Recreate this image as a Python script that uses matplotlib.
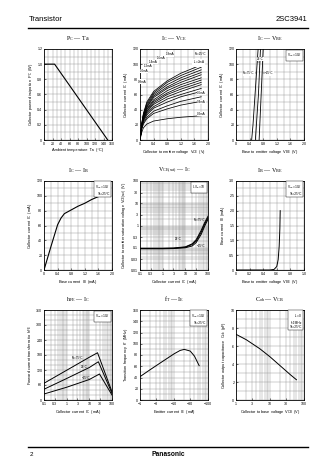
import matplotlib
matplotlib.use("Agg")
import matplotlib.pyplot as plt
import numpy as np
from matplotlib.ticker import FixedLocator, NullFormatter, FixedFormatter

plt.rcParams['font.family'] = ['Liberation Sans', 'DejaVu Sans']
plt.rcParams['mathtext.fontset'] = 'custom'
plt.rcParams['mathtext.rm'] = 'Liberation Sans'
plt.rcParams['mathtext.it'] = 'Liberation Sans:italic'

# ---------------- data ----------------
# Panel 1: PC - Ta
pc_ta = [0, 25, 150]
pc_w = [1.0, 1.0, 0.0]

# Panel 2: IC - VCE (family of IB curves)
vce_pts = [0, 0.05, 0.1, 0.2, 0.4, 0.8, 1.2, 1.8]
ic_vce = [
    [0, 22, 35, 50, 64, 78, 88, 99],
    [0, 21, 34, 48, 62, 76, 85, 96],
    [0, 20, 33, 46, 60, 73, 82, 92.5],
    [0, 19, 32, 44, 58, 70, 79, 89],
    [0, 19, 31, 43, 56, 68, 76, 86],
    [0, 18, 30, 41, 53, 65, 73, 82],
    [0, 18, 29, 40, 51, 62, 70, 79],
    [0, 17, 28, 38, 49, 60, 67, 76],
    [0, 17, 27, 37, 47, 57, 64, 73],
    [0, 16, 26, 35, 44, 54, 60, 68],
    [0, 16, 25, 33, 42, 50, 57, 64],
    [0, 15, 23, 30, 38, 45, 51, 57],
    [0, 14, 21, 28, 35, 41, 46, 51],
    [0, 10, 16, 21, 25, 28, 30, 32],
]
ib_left_labels = ["1.8mA", "1.6mA", "1.4mA", "1.2mA", "1.0mA", "0.8mA"]
ib_left_pos = [(1.0, 113), (0.76, 108), (0.52, 103), (0.36, 97), (0.24, 91), (0.18, 77)]
ib_right_labels = ["I$_\\mathregular{B}$=2mA", "0.6mA", "0.4mA", "0.2mA"]
ib_right_pos = [(1.55, 102), (1.68, 62), (1.68, 50), (1.68, 34)]

# Panel 3: IC - VBE
ic_vbe_ic = [0, 20, 40, 60, 80, 100, 120]
vbe_75 = [0.46, 0.50, 0.53, 0.56, 0.59, 0.62, 0.65]
vbe_25 = [0.57, 0.60, 0.63, 0.66, 0.68, 0.70, 0.72]
vbe_m25 = [0.68, 0.70, 0.72, 0.74, 0.76, 0.78, 0.80]

# Panel 4: IC - IB
ib_ma = [0, 0.2, 0.4, 0.5, 0.6, 0.8, 1.0, 1.2, 1.4, 1.65]
ic_ib = [0, 31, 61, 70, 76, 81, 86, 90, 95, 100]

# Panel 5: VCE(sat) - IC
ic_sat = [0.1, 0.3, 1, 3, 10, 20, 30, 50, 70, 100]
vsat_75 = [0.095, 0.095, 0.095, 0.097, 0.11, 0.15, 0.23, 0.6, 1.3, 2.6]
vsat_25 = [0.093, 0.093, 0.093, 0.095, 0.105, 0.14, 0.2, 0.5, 1.1, 2.2]
vsat_m25 = [0.09, 0.09, 0.09, 0.092, 0.10, 0.12, 0.17, 0.4, 0.9, 1.9]

# Panel 6: IB - VBE
vbe_ib = [0, 0.50, 0.56, 0.60, 0.62, 0.635, 0.645, 0.65]
ib_vbe = [0, 0.0, 0.02, 0.12, 0.35, 0.8, 1.4, 2.0]

# Panel 7: hFE - IC
hfe_ic_75 = [0.1, 1, 10, 23, 100]
hfe_75 = [67, 119, 171, 189, 33]
hfe_ic_25 = [0.1, 1, 10, 25, 100]
hfe_25 = [43, 86, 130, 153, 27]
hfe_ic_m25 = [0.1, 1, 10, 28, 100]
hfe_m25 = [24, 51, 82, 104, 20]

# Panel 8: fT - IE
ie_ma = [1, 2, 5, 10, 15, 20, 30, 40, 55]
ft_mhz = [41.5, 54, 70, 82, 88, 90, 87, 78, 61]

# Panel 9: Cob - VCB
vcb_v = [1, 2, 5, 10, 20, 40, 60]
cob_pf = [7.3, 6.7, 5.7, 4.8, 3.8, 2.8, 2.25]

# ---------------- figure ----------------
W, H = 336, 474
fig = plt.figure(figsize=(W / 100, H / 100), dpi=100)

TS = 2.6   # tick label size
LS = 2.8   # axis label size
GRID = dict(color='#8c8c8c', lw=0.3)
serif = ['Liberation Serif', 'DejaVu Serif']

cols = [44, 140, 236]
rows = [(49, 140), (181, 270), (310, 400)]
AW = 68


def make_ax(c, r):
    x0 = cols[c]
    top, bot = rows[r]
    ax = fig.add_axes([x0 / W, 1 - bot / H, AW / W, (bot - top) / H])
    for s in ax.spines.values():
        s.set_linewidth(0.6)
    ax.tick_params(which='both', direction='in', length=1.5, width=0.4,
                   labelsize=TS, pad=1.2)
    ax.tick_params(which='minor', length=0)
    return ax


def title(c, r, txt):
    top = rows[r][0]
    fig.text((cols[c] + AW / 2) / W, 1 - (top - 6) / H, txt, ha='center',
             va='bottom', fontsize=4.3, family=serif)


def labels(ax, xl, yl):
    ax.set_xlabel(xl, fontsize=LS, labelpad=1.5)
    ax.set_ylabel(yl, fontsize=LS, labelpad=1.5)


def cond_box(ax, txt, x=0.97, y=0.97):
    ax.text(x, y, txt, transform=ax.transAxes, ha='right', va='top',
            fontsize=2.3, linespacing=1.1,
            bbox=dict(boxstyle='square,pad=0.4', fc='white', ec='black', lw=0.3))


def lin_grid(ax, xmaj, xmin, ymaj, ymin):
    ax.xaxis.set_major_locator(FixedLocator(xmaj))
    ax.xaxis.set_minor_locator(FixedLocator(xmin))
    ax.yaxis.set_major_locator(FixedLocator(ymaj))
    ax.yaxis.set_minor_locator(FixedLocator(ymin))
    ax.grid(True, which='both', **GRID)
    ax.set_axisbelow(True)


def log_minor(lo, hi):
    out = []
    d = lo
    while d < hi:
        for m in range(1, 10):
            out.append(d * m)
        d *= 10
    return out


# Panel 1
ax = make_ax(0, 0)
ax.plot(pc_ta, pc_w, color='black', lw=0.8)
ax.set_xlim(0, 160)
ax.set_ylim(0, 1.2)
lin_grid(ax, np.arange(0, 161, 20), np.arange(0, 161, 10),
         np.arange(0, 1.21, 0.2), np.arange(0, 1.21, 0.1))
ax.set_yticklabels(['0', '0.2', '0.4', '0.6', '0.8', '1.0', '1.2'])
labels(ax, 'Ambient temperature  Ta  (°C)',
       'Collector power dissipation  P$_\\mathregular{C}$  (W)')
title(0, 0, 'P$_\\mathregular{C}$ — Ta')

# Panel 2
ax = make_ax(1, 0)
for ys in ic_vce:
    ax.plot(vce_pts, ys, color='black', lw=0.55)
ax.set_xlim(0, 2.0)
ax.set_ylim(0, 120)
lin_grid(ax, [0, 0.4, 0.8, 1.2, 1.6, 2.0], np.arange(0, 2.01, 0.2),
         np.arange(0, 121, 20), np.arange(0, 121, 10))
ax.set_xticklabels(['0', '0.4', '0.8', '1.2', '1.6', '2.0'])
for t, (x, y) in zip(ib_left_labels, ib_left_pos):
    ax.text(x, y, t, fontsize=2.2, ha='right', va='center',
            bbox=dict(fc='white', ec='none', pad=0.2))
for t, (x, y) in zip(ib_right_labels, ib_right_pos):
    ax.text(x, y, t, fontsize=2.2, ha='left', va='center',
            bbox=dict(fc='white', ec='none', pad=0.2))
ax.text(1.95, 116, 'Ta=25°C', fontsize=2.2, ha='right', va='top')
labels(ax, 'Collector to emitter voltage  V$_\\mathregular{CE}$  (V)',
       'Collector current  I$_\\mathregular{C}$  (mA)')
title(1, 0, 'I$_\\mathregular{C}$ — V$_\\mathregular{CE}$')

# Panel 3
ax = make_ax(2, 0)
for v in (vbe_75, vbe_25, vbe_m25):
    ax.plot(v, ic_vbe_ic, color='black', lw=0.6)
ax.set_xlim(0, 2.0)
ax.set_ylim(0, 120)
lin_grid(ax, [0, 0.4, 0.8, 1.2, 1.6, 2.0], np.arange(0, 2.01, 0.2),
         np.arange(0, 121, 20), np.arange(0, 121, 10))
ax.set_xticklabels(['0', '0.4', '0.8', '1.2', '1.6', '2.0'])
cond_box(ax, 'V$_\\mathregular{CE}$=10V')
ax.text(0.72, 104, '25°C', fontsize=2.2, ha='center', va='bottom',
        bbox=dict(fc='white', ec='none', pad=0.2))
ax.plot([0.62, 0.72], [103, 103], color='black', lw=0.3)
ax.text(0.55, 88, 'Ta=75°C', fontsize=2.2, ha='right', va='center',
        bbox=dict(fc='white', ec='none', pad=0.2))
ax.plot([0.55, 0.58], [88, 88], color='black', lw=0.3)
ax.text(0.86, 88, '−25°C', fontsize=2.2, ha='left', va='center',
        bbox=dict(fc='white', ec='none', pad=0.2))
ax.plot([0.79, 0.86], [88, 88], color='black', lw=0.3)
labels(ax, 'Base to emitter voltage  V$_\\mathregular{BE}$  (V)',
       'Collector current  I$_\\mathregular{C}$  (mA)')
title(2, 0, 'I$_\\mathregular{C}$ — V$_\\mathregular{BE}$')

# Panel 4
ax = make_ax(0, 1)
ax.plot(ib_ma, ic_ib, color='black', lw=0.8)
ax.set_xlim(0, 2.0)
ax.set_ylim(0, 120)
lin_grid(ax, [0, 0.4, 0.8, 1.2, 1.6, 2.0], np.arange(0, 2.01, 0.2),
         np.arange(0, 121, 20), np.arange(0, 121, 10))
ax.set_xticklabels(['0', '0.4', '0.8', '1.2', '1.6', '2.0'])
cond_box(ax, 'V$_\\mathregular{CE}$=10V\nTa=25°C')
labels(ax, 'Base current  I$_\\mathregular{B}$  (mA)',
       'Collector current  I$_\\mathregular{C}$  (mA)')
title(0, 1, 'I$_\\mathregular{C}$ — I$_\\mathregular{B}$')

# Panel 5
ax = make_ax(1, 1)
for v in (vsat_75, vsat_25, vsat_m25):
    ax.plot(ic_sat, v, color='black', lw=0.7)
ax.set_xscale('log')
ax.set_yscale('log')
ax.set_xlim(0.1, 100)
ax.set_ylim(0.01, 100)
xt = [0.1, 0.3, 1, 3, 10, 30, 100]
yt = [0.01, 0.03, 0.1, 0.3, 1, 3, 10, 30, 100]
ax.xaxis.set_major_locator(FixedLocator(xt))
ax.xaxis.set_major_formatter(FixedFormatter(['0.1', '0.3', '1', '3', '10', '30', '100']))
ax.xaxis.set_minor_locator(FixedLocator(log_minor(0.1, 100)))
ax.xaxis.set_minor_formatter(NullFormatter())
ax.yaxis.set_major_locator(FixedLocator(yt))
ax.yaxis.set_major_formatter(FixedFormatter(['0.01', '0.03', '0.1', '0.3', '1', '3', '10', '30', '100']))
ax.yaxis.set_minor_locator(FixedLocator(log_minor(0.01, 100)))
ax.yaxis.set_minor_formatter(NullFormatter())
ax.grid(True, which='both', **GRID)
ax.set_axisbelow(True)
cond_box(ax, 'I$_\\mathregular{C}$/I$_\\mathregular{B}$=10')
ax.text(45, 1.7, 'Ta=75°C', fontsize=2.2, ha='center', va='center')
ax.text(5, 0.25, '25°C', fontsize=2.2, ha='center', va='center')
ax.text(50, 0.12, '−25°C', fontsize=2.2, ha='center', va='center')
labels(ax, 'Collector current  I$_\\mathregular{C}$  (mA)',
       'Collector to emitter saturation voltage  V$_\\mathregular{CE(sat)}$  (V)')
title(1, 1, 'V$_\\mathregular{CE(sat)}$ — I$_\\mathregular{C}$')

# Panel 6
ax = make_ax(2, 1)
ax.plot(vbe_ib, ib_vbe, color='black', lw=0.7)
ax.set_xlim(0, 1.0)
ax.set_ylim(0, 3.0)
lin_grid(ax, np.arange(0, 1.01, 0.2), np.arange(0, 1.01, 0.1),
         np.arange(0, 3.01, 0.5), np.arange(0, 3.01, 0.25))
ax.set_xticklabels(['0', '0.2', '0.4', '0.6', '0.8', '1.0'])
ax.set_yticklabels(['0', '0.5', '1.0', '1.5', '2.0', '2.5', '3.0'])
cond_box(ax, 'V$_\\mathregular{CE}$=10V\nTa=25°C')
labels(ax, 'Base to emitter voltage  V$_\\mathregular{BE}$  (V)',
       'Base current  I$_\\mathregular{B}$  (mA)')
title(2, 1, 'I$_\\mathregular{B}$ — V$_\\mathregular{BE}$')

# Panel 7
ax = make_ax(0, 2)
ax.plot(hfe_ic_75, hfe_75, color='black', lw=0.7)
ax.plot(hfe_ic_25, hfe_25, color='black', lw=0.7)
ax.plot(hfe_ic_m25, hfe_m25, color='black', lw=0.7)
ax.set_xscale('log')
ax.set_xlim(0.1, 100)
ax.set_ylim(0, 360)
ax.xaxis.set_major_locator(FixedLocator(xt))
ax.xaxis.set_major_formatter(FixedFormatter(['0.1', '0.3', '1', '3', '10', '30', '100']))
ax.xaxis.set_minor_locator(FixedLocator(log_minor(0.1, 100)))
ax.xaxis.set_minor_formatter(NullFormatter())
ax.yaxis.set_major_locator(FixedLocator(np.arange(0, 361, 60)))
ax.yaxis.set_minor_locator(FixedLocator(np.arange(0, 361, 20)))
ax.grid(True, which='both', **GRID)
ax.set_axisbelow(True)
cond_box(ax, 'V$_\\mathregular{CE}$=10V')
ax.text(3, 168, 'Ta=75°C', fontsize=2.2, ha='center', va='center')
ax.text(6, 132, '25°C', fontsize=2.2, ha='center', va='center')
ax.text(7, 88, '−25°C', fontsize=2.2, ha='center', va='center')
labels(ax, 'Collector current  I$_\\mathregular{C}$  (mA)',
       'Forward current transfer ratio  h$_\\mathregular{FE}$')
title(0, 2, 'h$_\\mathregular{FE}$ — I$_\\mathregular{C}$')

# Panel 8
ax = make_ax(1, 2)
ax.plot(ie_ma, ft_mhz, color='black', lw=0.7)
ax.set_xscale('log')
ax.set_xlim(1, 100)
ax.set_ylim(0, 160)
ax.xaxis.set_major_locator(FixedLocator([1, 3, 10, 30, 100]))
ax.xaxis.set_major_formatter(FixedFormatter(['−1', '−3', '−10', '−30', '−100']))
ax.xaxis.set_minor_locator(FixedLocator(log_minor(1, 100)))
ax.xaxis.set_minor_formatter(NullFormatter())
ax.yaxis.set_major_locator(FixedLocator(np.arange(0, 161, 20)))
ax.yaxis.set_minor_locator(FixedLocator(np.arange(0, 161, 10)))
ax.grid(True, which='both', **GRID)
ax.set_axisbelow(True)
cond_box(ax, 'V$_\\mathregular{CB}$=10V\nTa=25°C')
labels(ax, 'Emitter current  I$_\\mathregular{E}$  (mA)',
       'Transition frequency  f$_\\mathregular{T}$  (MHz)')
title(1, 2, 'f$_\\mathregular{T}$ — I$_\\mathregular{E}$')

# Panel 9
ax = make_ax(2, 2)
ax.plot(vcb_v, cob_pf, color='black', lw=0.7)
ax.set_xscale('log')
ax.set_xlim(1, 100)
ax.set_ylim(0, 10)
ax.xaxis.set_major_locator(FixedLocator([1, 3, 10, 30, 100]))
ax.xaxis.set_major_formatter(FixedFormatter(['1', '3', '10', '30', '100']))
ax.xaxis.set_minor_locator(FixedLocator(log_minor(1, 100)))
ax.xaxis.set_minor_formatter(NullFormatter())
ax.yaxis.set_major_locator(FixedLocator(np.arange(0, 11, 2)))
ax.yaxis.set_minor_locator(FixedLocator(np.arange(0, 11, 1)))
ax.grid(True, which='both', **GRID)
ax.set_axisbelow(True)
cond_box(ax, 'I$_\\mathregular{E}$=0\nf=1MHz\nTa=25°C')
labels(ax, 'Collector to base voltage  V$_\\mathregular{CB}$  (V)',
       'Collector output capacitance  C$_\\mathregular{ob}$  (pF)')
title(2, 2, 'C$_\\mathregular{ob}$ — V$_\\mathregular{CB}$')

# Header / footer
fig.text(29 / W, 1 - 23 / H, 'Transistor', fontsize=5.5, ha='left', va='bottom')
fig.text(307 / W, 1 - 23 / H, '2SC3941', fontsize=5.5, ha='right', va='bottom')
fig.add_artist(plt.Line2D([28 / W, 308 / W], [1 - 28 / H, 1 - 28 / H], color='black', lw=1.0))
fig.add_artist(plt.Line2D([28 / W, 308 / W], [1 - 447 / H, 1 - 447 / H], color='black', lw=1.0))
fig.text(30 / W, 1 - 455 / H, '2', fontsize=4.5, ha='left', va='center')
fig.text(168 / W, 1 - 455 / H, 'Panasonic', fontsize=4.8, ha='center', va='center', weight='bold')

fig.savefig('out.png', dpi=100, facecolor='white')
